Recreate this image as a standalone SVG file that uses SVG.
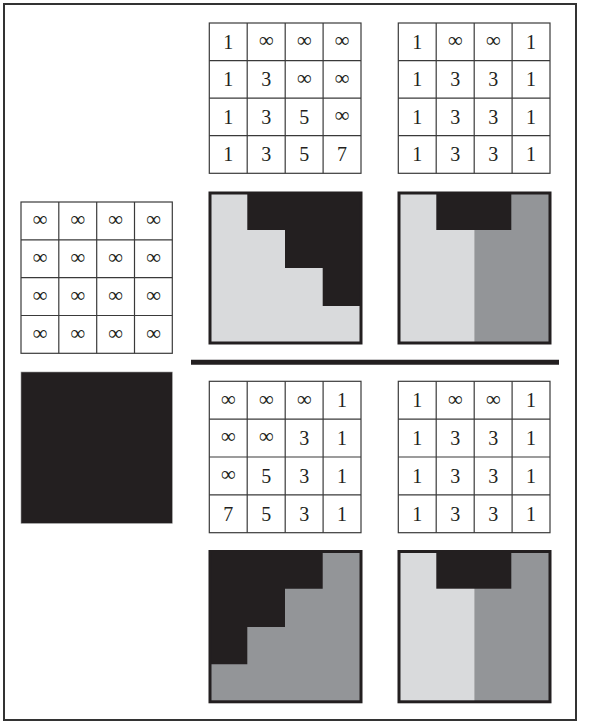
<svg xmlns="http://www.w3.org/2000/svg" width="589" height="724" viewBox="0 0 589 724">
<style>
.grid rect, .grid line{fill:none;stroke:#3a3a3a;stroke-width:1.2}
.grid text{font-family:"Liberation Serif","DejaVu Serif",serif;font-size:20px;fill:#231f20;text-anchor:middle}
.grid text.inf{font-size:21px}
.blk{fill:#231f20}
.lt{fill:#d9dadc}
.gr{fill:#939598}
.frame{fill:none;stroke:#231f20;stroke-width:3}
</style>
<rect width="589" height="724" fill="#ffffff"/>
<rect x="4" y="4" width="572" height="716" fill="none" stroke="#333333" stroke-width="2"/>

<!-- left initial grid -->
<g id="grid-initial" class="grid">
<rect x="21" y="202" width="151.3" height="151.3"/>
<line x1="58.8" y1="202" x2="58.8" y2="353.3"/><line x1="96.7" y1="202" x2="96.7" y2="353.3"/><line x1="134.5" y1="202" x2="134.5" y2="353.3"/>
<line x1="21" y1="239.8" x2="172.3" y2="239.8"/><line x1="21" y1="277.7" x2="172.3" y2="277.7"/><line x1="21" y1="315.5" x2="172.3" y2="315.5"/>
<text class="inf" x="39.9" y="226">∞</text><text class="inf" x="77.8" y="226">∞</text><text class="inf" x="115.6" y="226">∞</text><text class="inf" x="153.4" y="226">∞</text>
<text class="inf" x="39.9" y="264">∞</text><text class="inf" x="77.8" y="264">∞</text><text class="inf" x="115.6" y="264">∞</text><text class="inf" x="153.4" y="264">∞</text>
<text class="inf" x="39.9" y="302">∞</text><text class="inf" x="77.8" y="302">∞</text><text class="inf" x="115.6" y="302">∞</text><text class="inf" x="153.4" y="302">∞</text>
<text class="inf" x="39.9" y="340">∞</text><text class="inf" x="77.8" y="340">∞</text><text class="inf" x="115.6" y="340">∞</text><text class="inf" x="153.4" y="340">∞</text>
</g>

<!-- left black image -->
<g id="image-initial">
<rect class="blk" x="21" y="372" width="151.3" height="151.3" stroke="#9a9a9a" stroke-width="0.6"/>
</g>

<!-- top middle grid -->
<g id="grid-top-left-pass" class="grid">
<rect x="209.3" y="23" width="151.7" height="150.3"/>
<line x1="247.2" y1="23" x2="247.2" y2="173.3"/><line x1="285.2" y1="23" x2="285.2" y2="173.3"/><line x1="323.1" y1="23" x2="323.1" y2="173.3"/>
<line x1="209.3" y1="60.6" x2="361" y2="60.6"/><line x1="209.3" y1="98.2" x2="361" y2="98.2"/><line x1="209.3" y1="135.7" x2="361" y2="135.7"/>
<text x="228.3" y="48.5">1</text><text class="inf" x="266.2" y="47">∞</text><text class="inf" x="304.2" y="47">∞</text><text class="inf" x="342.1" y="47">∞</text>
<text x="228.3" y="86">1</text><text x="266.2" y="86">3</text><text class="inf" x="304.2" y="84.5">∞</text><text class="inf" x="342.1" y="84.5">∞</text>
<text x="228.3" y="123.6">1</text><text x="266.2" y="123.6">3</text><text x="304.2" y="123.6">5</text><text class="inf" x="342.1" y="122">∞</text>
<text x="228.3" y="161.2">1</text><text x="266.2" y="161.2">3</text><text x="304.2" y="161.2">5</text><text x="342.1" y="161.2">7</text>
</g>

<!-- top right grid -->
<g id="grid-top-combined" class="grid">
<rect x="398.3" y="23" width="151.7" height="150.3"/>
<line x1="436.2" y1="23" x2="436.2" y2="173.3"/><line x1="474.2" y1="23" x2="474.2" y2="173.3"/><line x1="512.1" y1="23" x2="512.1" y2="173.3"/>
<line x1="398.3" y1="60.6" x2="550" y2="60.6"/><line x1="398.3" y1="98.2" x2="550" y2="98.2"/><line x1="398.3" y1="135.7" x2="550" y2="135.7"/>
<text x="417.3" y="48.5">1</text><text class="inf" x="455.2" y="47">∞</text><text class="inf" x="493.2" y="47">∞</text><text x="531.1" y="48.5">1</text>
<text x="417.3" y="86">1</text><text x="455.2" y="86">3</text><text x="493.2" y="86">3</text><text x="531.1" y="86">1</text>
<text x="417.3" y="123.6">1</text><text x="455.2" y="123.6">3</text><text x="493.2" y="123.6">3</text><text x="531.1" y="123.6">1</text>
<text x="417.3" y="161.2">1</text><text x="455.2" y="161.2">3</text><text x="493.2" y="161.2">3</text><text x="531.1" y="161.2">1</text>
</g>

<!-- top middle image -->
<g id="image-top-left-pass">
<rect class="lt" x="210" y="193" width="151" height="150"/>
<path class="blk" d="M247.3 193 H361 V306 H322.7 V268 H285 V230 H247.3 Z"/>
<rect class="frame" x="210" y="193" width="151" height="150"/>
</g>

<!-- top right image -->
<g id="image-top-combined">
<rect class="lt" x="399" y="193" width="75.3" height="150"/>
<rect class="gr" x="474.3" y="193" width="75.7" height="150"/>
<rect class="blk" x="436.3" y="193" width="75" height="37"/>
<rect class="frame" x="399" y="193" width="151" height="150"/>
</g>

<!-- separator -->
<g id="separator">
<line x1="191" y1="362.3" x2="559" y2="362.3" stroke="#231f20" stroke-width="5"/>
</g>

<!-- bottom middle grid -->
<g id="grid-bottom-right-pass" class="grid">
<rect x="209.3" y="381.3" width="151.7" height="151.4"/>
<line x1="247.2" y1="381.3" x2="247.2" y2="532.7"/><line x1="285.2" y1="381.3" x2="285.2" y2="532.7"/><line x1="323.1" y1="381.3" x2="323.1" y2="532.7"/>
<line x1="209.3" y1="419.2" x2="361" y2="419.2"/><line x1="209.3" y1="457" x2="361" y2="457"/><line x1="209.3" y1="494.9" x2="361" y2="494.9"/>
<text class="inf" x="228.3" y="405.5">∞</text><text class="inf" x="266.2" y="405.5">∞</text><text class="inf" x="304.2" y="405.5">∞</text><text x="342.1" y="407">1</text>
<text class="inf" x="228.3" y="443.3">∞</text><text class="inf" x="266.2" y="443.3">∞</text><text x="304.2" y="444.8">3</text><text x="342.1" y="444.8">1</text>
<text class="inf" x="228.3" y="481.2">∞</text><text x="266.2" y="482.7">5</text><text x="304.2" y="482.7">3</text><text x="342.1" y="482.7">1</text>
<text x="228.3" y="520.5">7</text><text x="266.2" y="520.5">5</text><text x="304.2" y="520.5">3</text><text x="342.1" y="520.5">1</text>
</g>

<!-- bottom right grid -->
<g id="grid-bottom-combined" class="grid">
<rect x="398.3" y="381.3" width="151.7" height="151.4"/>
<line x1="436.2" y1="381.3" x2="436.2" y2="532.7"/><line x1="474.2" y1="381.3" x2="474.2" y2="532.7"/><line x1="512.1" y1="381.3" x2="512.1" y2="532.7"/>
<line x1="398.3" y1="419.2" x2="550" y2="419.2"/><line x1="398.3" y1="457" x2="550" y2="457"/><line x1="398.3" y1="494.9" x2="550" y2="494.9"/>
<text x="417.3" y="407">1</text><text class="inf" x="455.2" y="405.5">∞</text><text class="inf" x="493.2" y="405.5">∞</text><text x="531.1" y="407">1</text>
<text x="417.3" y="444.8">1</text><text x="455.2" y="444.8">3</text><text x="493.2" y="444.8">3</text><text x="531.1" y="444.8">1</text>
<text x="417.3" y="482.7">1</text><text x="455.2" y="482.7">3</text><text x="493.2" y="482.7">3</text><text x="531.1" y="482.7">1</text>
<text x="417.3" y="520.5">1</text><text x="455.2" y="520.5">3</text><text x="493.2" y="520.5">3</text><text x="531.1" y="520.5">1</text>
</g>

<!-- bottom middle image -->
<g id="image-bottom-right-pass">
<rect class="gr" x="210" y="551.5" width="151" height="150.3"/>
<path class="blk" d="M210 551.5 H322.7 V588.7 H285 V627 H247.3 V664.3 H210 Z"/>
<rect class="frame" x="210" y="551.5" width="151" height="150.3"/>
</g>

<!-- bottom right image -->
<g id="image-bottom-combined">
<rect class="lt" x="399" y="551.5" width="75.3" height="150.3"/>
<rect class="gr" x="474.3" y="551.5" width="75.7" height="150.3"/>
<rect class="blk" x="436.3" y="551.5" width="75" height="37.2"/>
<rect class="frame" x="399" y="551.5" width="151" height="150.3"/>
</g>
</svg>
